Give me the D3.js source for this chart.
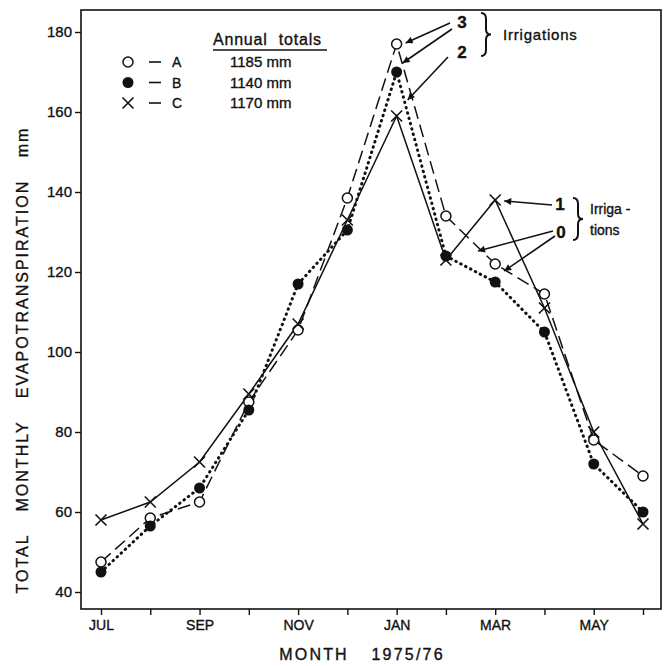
<!DOCTYPE html>
<html>
<head>
<meta charset="utf-8">
<script src="https://cdn.jsdelivr.net/npm/d3@7"></script>
<style>
  body { margin: 0; background: #fff; }
  text { font-family: "Liberation Sans", Arial, sans-serif; fill: #111; stroke: #111; stroke-width: 0.35px; }
</style>
</head>
<body>
<div id="app"></div>
<script>
// DATA
const months = ['JUL','AUG','SEP','OCT','NOV','DEC','JAN','FEB','MAR','APR','MAY','JUN'];
const tickMonths = ['JUL','SEP','NOV','JAN','MAR','MAY'];
const seriesA = [47.5, 58.5, 62.5, 87.5, 105.5, 138.5, 177, 134, 122, 114.5, 78, 69];
const seriesB = [45, 56.5, 66, 85.5, 117, 130.5, 170, 124, 117.5, 105, 72, 60];
const seriesC = [58, 62.5, 72.5, 89.5, 107, 133, 159, 123, 138, 111, 80, 57];
const yTicks = [40, 60, 80, 100, 120, 140, 160, 180];
const legendKeys = ['A', 'B', 'C'];
const legendTotals = ['1185 mm', '1140 mm', '1170 mm'];

// VARS
const width = 669, height = 666;
const frame = { left: 81, right: 661, top: 10, bottom: 609 };

const svg = d3.select('#app').append('svg')
  .attr('width', width)
  .attr('height', height);

const x = d3.scaleLinear().domain([0, 11]).range([101, 643]);
const y = d3.scaleLinear().domain([40, 180]).range([592, 32]);

// frame
svg.append('rect')
  .attr('x', frame.left).attr('y', frame.top)
  .attr('width', frame.right - frame.left)
  .attr('height', frame.bottom - frame.top)
  .attr('fill', 'none').attr('stroke', '#111').attr('stroke-width', 1.6);

// y axis
const yAxis = svg.append('g')
  .attr('transform', `translate(${frame.left},0)`)
  .call(d3.axisLeft(y).tickValues(yTicks).tickSize(6).tickPadding(3));
yAxis.select('.domain').remove();
yAxis.selectAll('line').attr('stroke', '#111').attr('stroke-width', 1.4);
yAxis.selectAll('text').style('font-size', '15px').attr('fill', '#111');

// x axis
const xAxis = svg.append('g')
  .attr('transform', `translate(0,${frame.bottom})`)
  .call(d3.axisBottom(x).tickValues(d3.range(12)).tickSize(6).tickPadding(5)
    .tickFormat(i => tickMonths.includes(months[i]) ? months[i] : ''));
xAxis.select('.domain').remove();
xAxis.selectAll('line').attr('stroke', '#111').attr('stroke-width', 1.4);
xAxis.selectAll('text').style('font-size', '14px').attr('fill', '#111');

// axis titles
svg.append('text')
  .attr('x', 362).attr('y', 660)
  .attr('text-anchor', 'middle')
  .style('font-size', '16px')
  .style('letter-spacing', '2.2px')
  .style('word-spacing', '16px')
  .text('MONTH 1975/76');

svg.append('text')
  .attr('transform', 'translate(28,360) rotate(-90)')
  .attr('text-anchor', 'middle')
  .style('font-size', '16px')
  .style('letter-spacing', '2px')
  .style('word-spacing', '16px')
  .text('TOTAL MONTHLY EVAPOTRANSPIRATION mm');

// lines
const line = d3.line().x((d, i) => x(i)).y(d => y(d));
const series = [
  { key: 'A', values: seriesA, dash: '13,6', width: 1.5, cap: 'butt' },
  { key: 'B', values: seriesB, dash: '0.5,5', width: 3, cap: 'round' },
  { key: 'C', values: seriesC, dash: null, width: 1.5, cap: 'butt' }
];

svg.append('g').selectAll('path')
  .data(series)
  .enter()
  .append('path')
    .attr('d', d => line(d.values))
    .attr('fill', 'none')
    .attr('stroke', '#111')
    .attr('stroke-width', d => d.width)
    .attr('stroke-linecap', d => d.cap)
    .attr('stroke-dasharray', d => d.dash);

// markers
function drawMarker(g, key, cx, cy) {
  if (key === 'A') {
    g.append('circle').attr('cx', cx).attr('cy', cy).attr('r', 5)
      .attr('fill', '#fff').attr('stroke', '#111').attr('stroke-width', 1.5);
  } else if (key === 'B') {
    g.append('circle').attr('cx', cx).attr('cy', cy).attr('r', 5.5).attr('fill', '#111');
  } else {
    const s = 5.5;
    g.append('path')
      .attr('d', `M${cx - s},${cy - s}L${cx + s},${cy + s}M${cx + s},${cy - s}L${cx - s},${cy + s}`)
      .attr('stroke', '#111').attr('stroke-width', 1.6).attr('fill', 'none');
  }
}

const markers = svg.append('g');
series.forEach(s => {
  s.values.forEach((v, i) => drawMarker(markers, s.key, x(i), y(v)));
});

// legend
const legend = svg.append('g');
legend.append('text')
  .attr('x', 213).attr('y', 45)
  .style('font-size', '16px')
  .style('letter-spacing', '0.8px')
  .style('word-spacing', '6px')
  .text('Annual totals');
legend.append('line')
  .attr('x1', 213).attr('x2', 327).attr('y1', 50).attr('y2', 50)
  .attr('stroke', '#111').attr('stroke-width', 1.6);

legendKeys.forEach((k, i) => {
  const ly = 62 + i * 20.5;
  drawMarker(legend, k, 128, ly);
  legend.append('line')
    .attr('x1', 149).attr('x2', 161).attr('y1', ly).attr('y2', ly)
    .attr('stroke', '#111').attr('stroke-width', 1.6);
  legend.append('text')
    .attr('x', 172).attr('y', ly + 5)
    .style('font-size', '14px')
    .text(k);
  legend.append('text')
    .attr('x', 230).attr('y', ly + 5)
    .style('font-size', '15px')
    .text(legendTotals[i]);
});

// annotations
svg.append('defs').append('marker')
  .attr('id', 'arrow')
  .attr('viewBox', '0 0 10 10')
  .attr('refX', 10).attr('refY', 5)
  .attr('markerWidth', 9).attr('markerHeight', 7)
  .attr('markerUnits', 'userSpaceOnUse')
  .attr('orient', 'auto')
  .append('path').attr('d', 'M0,0L10,5L0,10Z').attr('fill', '#111');

const arrows = [
  [450, 23, x(6) + 9, y(seriesA[6]) - 1],
  [452, 29, x(6) + 6, y(seriesB[6]) - 9],
  [448, 57, x(6) + 11, y(seriesC[6]) - 16],
  [552, 205, x(8) + 9, y(seriesC[8]) + 1],
  [553, 231, 478, 251],
  [555, 236, x(8) + 9, y(seriesB[8]) - 11]
];
svg.append('g').selectAll('line')
  .data(arrows)
  .enter()
  .append('line')
    .attr('x1', d => d[0]).attr('y1', d => d[1])
    .attr('x2', d => d[2]).attr('y2', d => d[3])
    .attr('stroke', '#111').attr('stroke-width', 1.6)
    .attr('marker-end', 'url(#arrow)');

const labels = [
  ['3', 462, 28], ['2', 462, 58],
  ['1', 560, 210], ['0', 561, 238]
];
svg.append('g').selectAll('text')
  .data(labels)
  .enter()
  .append('text')
    .attr('x', d => d[1]).attr('y', d => d[2])
    .attr('text-anchor', 'middle')
    .style('font-size', '17px')
    .style('font-weight', 'bold')
    .text(d => d[0]);

// braces
function brace(x0, y0, y1) {
  const m = (y0 + y1) / 2;
  return `M${x0},${y0} Q${x0 + 5},${y0} ${x0 + 5},${y0 + 6} L${x0 + 5},${m - 5} Q${x0 + 5},${m} ${x0 + 10},${m}` +
    ` Q${x0 + 5},${m} ${x0 + 5},${m + 5} L${x0 + 5},${y1 - 6} Q${x0 + 5},${y1} ${x0},${y1}`;
}
svg.append('path').attr('d', brace(481, 13, 56))
  .attr('fill', 'none').attr('stroke', '#111').attr('stroke-width', 2);
svg.append('path').attr('d', brace(573, 198, 240))
  .attr('fill', 'none').attr('stroke', '#111').attr('stroke-width', 2);

svg.append('text').attr('x', 503).attr('y', 40)
  .style('font-size', '15px').style('letter-spacing', '0.8px').text('Irrigations');
svg.append('text').attr('x', 590).attr('y', 214)
  .style('font-size', '14px').text('Irriga -');
svg.append('text').attr('x', 590).attr('y', 235)
  .style('font-size', '14px').text('tions');
</script>
</body>
</html>
